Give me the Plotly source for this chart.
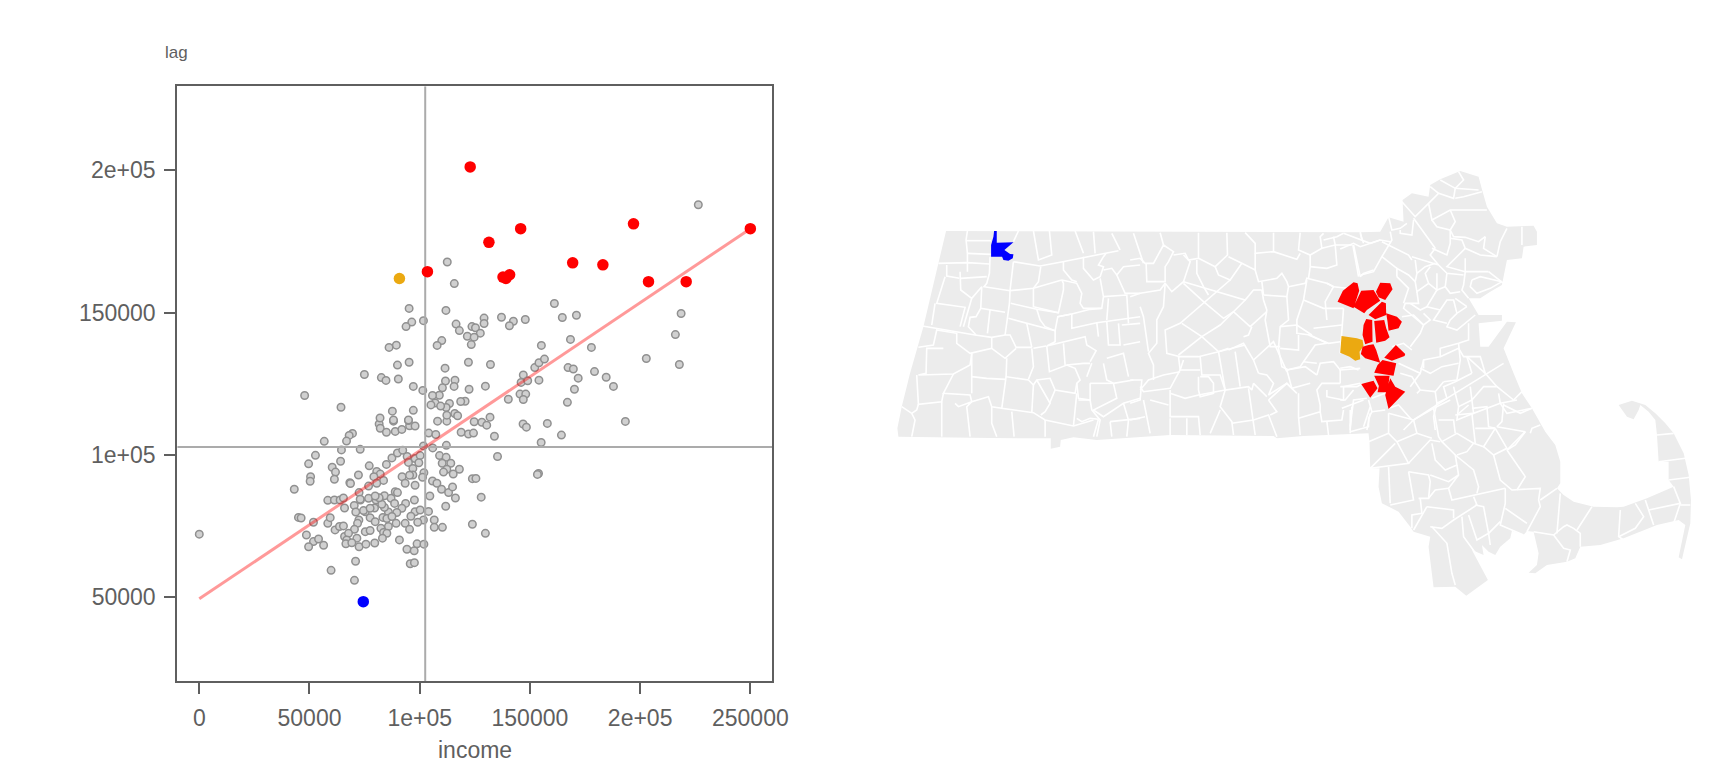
import plotly.graph_objects as go

# scatter values
income = [81600, 82100, 84900, 88900, 91900, 88100, 95400, 97900, 94900, 108100, 112300, 104100, 107300,
          118800, 122100, 124400, 124700, 128200, 130400, 133900, 135300, 69500, 68000, 66800, 56700, 73000,
          64500, 52700, 49600, 64100, 60300, 61800, 61300, 50500, 50300, 43100, 68300, 68600, 72200, 77100,
          84900, 87400, 89900, 92300, 94300, 94900, 97900, 100200, 99600, 96900, 96900, 92000, 95400, 93400,
          97900, 101900, 101300, 101700, 105900, 112100, 109000, 112000, 110200, 114100, 112300, 110800,
          118000, 115200, 105800, 107800, 109900, 113100, 114900, 116200, 123900, 125500, 127900, 104600,
          97600, 111800, 80500, 82100, 79200, 83600, 80500, 76800, 72500, 58300, 61300, 63900, 65400, 65900,
          70300, 73100, 76800, 80200, 79500, 75300, 84000, 87000, 88900, 89900, 88600, 93600, 91900, 89600,
          85800, 84000, 82800, 73000, 71000, 74500, 77500, 81600, 79800, 72400, 71800, 77500, 79800, 83300,
          85100, 87400, 89300, 85800, 82400, 83600, 85100, 83100, 70400, 65900, 67700, 75300, 77500, 61600,
          63600, 65400, 66900, 71500, 66500, 69200, 72500, 75600, 79600, 58300, 59400, 51800, 45000, 46200,
          48600, 51800, 54100, 49600, 56400, 90800, 97900, 100200, 104000, 96000, 101700, 99100, 93400, 95400,
          106600, 106600, 110300, 123900, 129800, 94200, 97500, 98800, 101900, 95700, 97600, 70900, 59800,
          70400,
          95200, 111900, 115700, 101700, 96400, 93800, 89400, 86100, 116500, 118000, 123700, 125300, 129200,
          129200, 127500, 121600, 124700, 123400, 137100, 142500, 140700, 147900, 161100, 155200, 110000,
          107900, 95200, 89900, 111500, 122100, 132100, 74900, 82600, 84700, 90300, 97100, 101400, 111700,
          116000, 115600, 110300, 108900, 105800, 122400, 129800, 147000, 146000, 149000, 154100, 152200,
          154100, 156600, 145500, 148100, 147000, 140200, 120600, 118600, 113500, 112000, 107000, 105100,
          109500, 64300, 87600, 97100, 115900, 117200, 112300, 131900, 82000, 88100, 94900,
          146900, 148400, 157900, 164300, 155100, 153900, 153400, 164700, 171100, 168400, 177900, 167300,
          169700, 171900, 179300, 184600, 187900, 170200, 167000, 202800, 216000, 218600, 217800, 193300,
          0, 47800, 226400, 112500]
lag = [110900, 109400, 108000, 108300, 109000, 111900, 110300, 110200, 112100, 111900, 111900, 107700, 107200,
       108000, 107400, 107700, 111700, 111500, 110500, 106600, 99500, 107600, 106900, 104900, 104800, 102000,
       101800, 99900, 96900, 97800, 95700, 94000, 91500, 92400, 90800, 88000, 90300, 90000, 93000, 96200,
       96700, 99000, 100700, 101700, 99500, 97400, 98800, 99800, 97300, 95300, 93000, 92400, 92900, 90100,
       89400, 93800, 92200, 103200, 102500, 103400, 99800, 99200, 97100, 97100, 95000, 94000,
       95000, 93300, 90900, 90100, 88000, 86800, 88800, 84900, 91700, 91800, 85200, 85600,
       84200, 82000, 94200, 93300, 92400, 91100, 90100, 89100, 86800, 84100, 84200, 84200, 84900, 81400,
       82300, 84200, 84800, 84200, 81400, 80100, 85700, 84800, 87100, 86800, 83000, 83000, 81300, 79800,
       80000, 81600, 82700, 84500, 80000, 80500, 81300, 85000, 85600, 77200, 76000, 78000, 76600, 78100,
       77700, 78400, 76000, 74900, 74300, 72800, 72500, 70800, 73900, 71400, 72500, 73100, 73500, 73700,
       74900, 75100, 70200, 70800, 68800, 69200, 67800, 68700, 69100, 76000, 78000, 76400, 78100, 77900,
       71900, 69600, 70500, 67800, 68300, 70200, 80100, 80700, 80200, 78500, 77200, 76400, 76000, 73900,
       77200, 74600, 74600, 75700, 72500, 66900, 66400, 68800, 68700, 61800, 62200, 62700, 59500,
       56000,
       151500, 150800, 160200, 147200, 146700, 145100, 138600, 137800, 146000, 143700, 145100, 144700, 148100,
       146200, 142800, 141700, 141400, 138800, 148400, 147000, 145400, 147600, 153200, 138500, 140200,
       138500, 132600, 131600, 130500, 132600, 131800, 128300, 127200, 126200, 126700, 124100, 122700, 126000,
       126300, 124100, 123600, 121000, 120900, 123100, 124200, 128100, 125500, 126100, 126300, 130700,
       132400, 133700, 121400, 121400, 119500, 119600, 118900, 118800, 118100, 116700, 118300, 117600,
       117200, 116800, 115400, 115700, 114600, 113800, 114000, 113300, 113000, 112300, 112300,
       110900, 109800, 111100, 107000, 104400, 93500, 93200, 148300, 149100, 140600, 137800, 130700,
       130200, 127000, 129300, 127300, 124100, 123100, 118500, 133900, 142300, 149700, 131800, 111800,
       72200, 120900, 187900, 167800]

high_income = [122900, 145800, 131400, 197000, 250000, 103500, 169400, 183100, 137800, 139100, 140800, 203800, 220900]
high_lag = [201200, 179500, 174700, 181200, 179500, 164400, 167500, 166800, 162500, 162000, 163300, 160900, 160900]
outlier_hl_income = [90800]
outlier_hl_lag = [162000]
outlier_lh_income = [74400]
outlier_lh_lag = [48500]

fit_income = [0, 250000]
fit_lag = [49500, 179500]
mean_income = 102500
mean_lag = 102800

x_ticks = [0, 50000, 100000, 150000, 200000, 250000]
x_labels = ["0", "50000", "1e+05", "150000", "2e+05", "250000"]
y_ticks = [50000, 100000, 150000, 200000]
y_labels = ["50000", "1e+05", "150000", "2e+05"]
x_range = [-10000, 260000]
y_range = [20500, 229500]

# map, easting / northing in arbitrary map units
state_x = [168, 1350, 1410, 1470, 1495, 1540, 1537, 1565, 1615, 1620, 1650, 1710, 1765, 1775, 1790, 1820, 1850, 1930,
           1940, 1940, 1900, 1895, 1850, 1842, 1835, 1800, 1770, 1735, 1765, 1835, 1835, 1765, 1770, 1795, 1850, 1877,
           1840, 1870, 1895, 1925, 1950, 1965, 1995, 2010, 2010, 2000, 2020, 2050, 2110, 2180, 2200, 2270, 2350, 2335,
           2335, 2305, 2300, 2295, 2275, 2250, 2245, 2230, 2210, 2185, 2225, 2265, 2295, 2325, 2350, 2380, 2395, 2402,
           2400, 2385, 2375, 2365, 2380, 2385, 2365, 2300, 2200, 2130, 2070, 2055, 2030, 1970, 1935, 1915, 1940, 1945,
           1930, 1910, 1900, 1865, 1860, 1830, 1815, 1795, 1775, 1780, 1745, 1793, 1728, 1695, 1630, 1615, 1620, 1570,
           1560, 1525, 1475, 1465, 1468, 1440, 1438, 1435, 1240, 1160, 1150, 840, 620, 550, 512, 510, 482, 482, 300, 60,
           25, 22, 35, 60, 100, 145]
state_y = [1107, 1103, 1103, 1105, 1148, 1135, 1200, 1220, 1210, 1245, 1262, 1287, 1270, 1232, 1180, 1130, 1120, 1123,
           1105, 1065, 1060, 1025, 1020, 980, 945, 925, 905, 905, 855, 855, 838, 830, 760, 760, 835, 833,
           755, 680, 620, 575, 530, 505, 465, 415, 350, 335, 315, 295, 280, 278, 280, 305, 340, 360,
           415, 415, 495, 540, 565, 585, 570, 542, 550, 585, 598, 585, 560, 530, 500, 440, 375, 300,
           230, 170, 122, 128, 200, 225, 240, 225, 185, 165, 160, 125, 115, 105, 80, 82, 105, 140,
           205, 207, 195, 208, 185, 160, 135, 145, 165, 135, 150, 60, 13, 40, 38, 160, 190, 205,
           220, 265, 290, 340, 395, 395, 470, 500, 492, 485, 492, 495, 480, 488, 480, 460, 454, 485, 486, 490,
           490, 515, 580, 680, 820, 1010]

# town borders per map sheet, sheet x is easting - origin, sheet y is origin - northing
west_origin = (0, 1140)
west_borders = [
    [(232, 33), (228, 60), (232, 100), (232, 155)], [(228, 62), (303, 62)], [(232, 100), (303, 103)],
    [(145, 130), (232, 128), (298, 132)], [(170, 135), (170, 168), (208, 175)],
    [(300, 110), (298, 160), (290, 190), (282, 200), (360, 212), (430, 205), (515, 180)],
    [(370, 125), (360, 210), (358, 250), (345, 345)],
    [(370, 125), (450, 138), (518, 125), (580, 112), (640, 100), (685, 92)],
    [(385, 33), (370, 65)], [(430, 33), (445, 120), (485, 105), (478, 33)], [(555, 33), (580, 100)], [(610, 35), (615, 100)],
    [(665, 40), (690, 90)],
    [(452, 140), (445, 185), (430, 205), (430, 260), (505, 278), (520, 210), (520, 190), (515, 180), (560, 190), (575, 220),
     (570, 250), (580, 265), (635, 265)],
    [(165, 170), (140, 250), (225, 262), (210, 320)], [(135, 250), (125, 315)],
    [(97, 318), (210, 338), (255, 345), (305, 352), (345, 345), (360, 345), (378, 382), (425, 382)],
    [(210, 155), (212, 210), (245, 235), (275, 200), (272, 265), (345, 277)], [(212, 175), (290, 170)],
    [(245, 235), (230, 290), (220, 320)], [(272, 265), (258, 290), (240, 292), (235, 320), (258, 345)],
    [(362, 250), (440, 268), (505, 278)], [(355, 295), (410, 310), (495, 332)], [(300, 268), (292, 340)], [(410, 310), (425, 382)],
    [(440, 268), (450, 300), (465, 320), (495, 332), (503, 290), (545, 282)],
    [(503, 290), (545, 282), (600, 268), (635, 265), (640, 230), (630, 175)],
    [(545, 282), (545, 325), (620, 308), (710, 295), (750, 290)],
    [(495, 332), (495, 365), (470, 378), (585, 350), (590, 375), (618, 392), (600, 425)],
    [(305, 352), (305, 385), (240, 400), (200, 370), (200, 340), (140, 330), (130, 375), (85, 382)],
    [(160, 385), (110, 385), (108, 460), (85, 465), (190, 462), (240, 435), (245, 400)],
    [(305, 385), (345, 415), (378, 385)],
    [(350, 415), (348, 470), (415, 480), (430, 495), (440, 480), (480, 475), (495, 510), (555, 520), (560, 490)],
    [(425, 385), (430, 440), (415, 478)], [(470, 378), (478, 455), (530, 435), (555, 445), (570, 480), (560, 490), (565, 535), (600, 540)],
    [(430, 385), (468, 378)], [(520, 370), (525, 435)], [(600, 430), (580, 430), (530, 435)],
    [(348, 470), (335, 565), (430, 578), (465, 600), (550, 618), (610, 600)],
    [(245, 400), (245, 520)], [(245, 470), (290, 475), (348, 478)],
    [(190, 462), (160, 520), (240, 525), (245, 545), (295, 530), (305, 560), (335, 565)],
    [(160, 520), (155, 545), (85, 553), (80, 465)], [(155, 545), (155, 650)],
    [(195, 550), (205, 560), (245, 545), (230, 560), (240, 650)],
    [(85, 553), (80, 570), (65, 580), (35, 560)], [(65, 580), (75, 600), (65, 650)],
    [(305, 560), (305, 610), (320, 650)], [(365, 575), (372, 650)], [(465, 600), (465, 650)],
    [(440, 480), (480, 550), (465, 575), (452, 585)], [(430, 495), (425, 578)], [(495, 510), (478, 550)],
    [(550, 618), (560, 520)], [(565, 540), (600, 540), (605, 570), (630, 600), (620, 650)], [(560, 595), (575, 605), (600, 595), (625, 598)],
    [(640, 230), (710, 225), (715, 310)], [(655, 235), (650, 300)], [(695, 315), (750, 310)],
    [(650, 305), (655, 375), (690, 375), (685, 310)], [(700, 375), (750, 365)],
    [(605, 430), (590, 470)], [(650, 415), (700, 400), (715, 470)], [(640, 430), (650, 480), (670, 490), (730, 480)],
    [(670, 490), (680, 535), (610, 570), (640, 590), (700, 550), (750, 535)], [(600, 490), (640, 490), (670, 490)], [(600, 490), (600, 540)],
    [(625, 598), (610, 650)], [(660, 605), (665, 650)], [(700, 550), (715, 600), (710, 650)], [(660, 605), (750, 595)],
    [(520, 125), (520, 150), (545, 180), (560, 185)],
    [(580, 110), (580, 145), (610, 180), (630, 170), (640, 140), (625, 135), (640, 110), (648, 100)],
    [(640, 150), (665, 145), (680, 165), (700, 140), (750, 135)], [(680, 165), (705, 220), (750, 220)],
    [(620, 308), (625, 350)],
]

central_origin = (720, 1140)
central_borders = [
    [(0, 120), (30, 115), (45, 130), (70, 130), (100, 75), (130, 95), (115, 125), (105, 140), (105, 185), (50, 185), (48, 130)],
    [(10, 40), (40, 130)], [(90, 38), (100, 75)],
    [(205, 38), (205, 115), (175, 120), (165, 100), (130, 105)], [(290, 38), (292, 105), (255, 140), (205, 115)],
    [(345, 38), (375, 70), (375, 100), (430, 95), (500, 118), (510, 100)], [(430, 38), (430, 95)],
    [(510, 38), (505, 90), (540, 105), (575, 85), (615, 75), (610, 50)],
    [(375, 100), (375, 150), (335, 130), (295, 110)], [(255, 140), (265, 165), (300, 180), (335, 130)],
    [(160, 105), (180, 125), (165, 170), (160, 185), (125, 215), (105, 190)],
    [(200, 120), (200, 160), (220, 200), (235, 225)], [(160, 185), (345, 240), (370, 210), (395, 210)],
    [(300, 180), (225, 245), (150, 310), (105, 330), (110, 400), (150, 410)],
    [(345, 240), (270, 315), (215, 350), (145, 405)],
    [(160, 190), (220, 245), (280, 295), (310, 275), (360, 320), (410, 275)],
    [(155, 310), (215, 350), (265, 395), (345, 375)],
    [(105, 190), (100, 260), (80, 300), (80, 370), (55, 400), (70, 435), (70, 480)], [(30, 260), (40, 290), (55, 395)],
    [(0, 230), (30, 220), (90, 210), (105, 190)],
    [(395, 210), (400, 240), (410, 270), (405, 300), (420, 380), (450, 380)],
    [(375, 150), (385, 185), (440, 175), (455, 160), (470, 185), (475, 200), (470, 230), (400, 225)], [(395, 185), (400, 225)],
    [(470, 230), (475, 300), (450, 320), (445, 385), (455, 440), (475, 450)],
    [(475, 200), (525, 190), (530, 175), (590, 190), (610, 200), (585, 245), (590, 300)],
    [(530, 180), (520, 240), (500, 300), (500, 340), (540, 345), (590, 370)], [(520, 240), (580, 265), (640, 265)],
    [(505, 345), (505, 390), (450, 385)], [(450, 320), (500, 315), (545, 345)], [(550, 325), (635, 315)],
    [(590, 370), (555, 375), (520, 425), (510, 440), (470, 450)],
    [(340, 350), (355, 345), (365, 320)], [(295, 390), (340, 370), (370, 420), (385, 460)],
    [(295, 385), (265, 395), (205, 410), (145, 410), (150, 450), (210, 450)],
    [(210, 410), (215, 465), (270, 465), (285, 510), (355, 500), (365, 510), (370, 490), (410, 530)],
    [(265, 395), (285, 510)], [(315, 395), (330, 500)], [(370, 420), (430, 365), (470, 455)],
    [(385, 460), (410, 465), (430, 490), (415, 525), (470, 490), (485, 505), (540, 490)],
    [(470, 450), (485, 505)], [(470, 450), (525, 440), (560, 465)],
    [(160, 420), (150, 450), (120, 505), (40, 515), (30, 500)], [(0, 550), (30, 540), (35, 480), (0, 480)],
    [(30, 510), (55, 480), (100, 465), (150, 455)],
    [(205, 470), (205, 510), (210, 530), (250, 520), (250, 490), (235, 470), (210, 470)],
    [(120, 510), (120, 590), (205, 590), (210, 645)], [(120, 520), (165, 535), (205, 525), (285, 510)],
    [(60, 540), (115, 555)], [(40, 540), (60, 640)], [(0, 600), (45, 590)], [(120, 595), (120, 645)], [(170, 595), (170, 645)],
    [(270, 570), (240, 640)], [(305, 610), (370, 600), (415, 585), (440, 650)],
    [(285, 510), (270, 560), (305, 605), (310, 645)], [(355, 505), (370, 600), (375, 645)],
    [(415, 540), (440, 575), (420, 585)], [(505, 520), (505, 590), (510, 645)], [(415, 540), (470, 490), (500, 520)],
    [(505, 595), (570, 575), (575, 605), (635, 600), (640, 570)], [(570, 575), (570, 555), (560, 510), (575, 490), (630, 490)],
    [(590, 510), (590, 530), (640, 540), (640, 500), (690, 490)], [(560, 465), (570, 430), (610, 425), (630, 450), (690, 445)],
    [(520, 425), (560, 430)], [(630, 490), (630, 450)], [(635, 565), (700, 540)], [(660, 570), (660, 640)], [(720, 560), (700, 620)],
    [(590, 605), (595, 645)], [(640, 265), (635, 320), (630, 400)], [(535, 345), (595, 370), (630, 365)],
    [(590, 190), (610, 200), (650, 205)], [(615, 75), (620, 135), (590, 145), (540, 140)],
    [(670, 75), (690, 170), (700, 160), (730, 150)], [(540, 105), (540, 140), (535, 175)],
    [(575, 85), (570, 50), (580, 40)], [(580, 60), (620, 50), (640, 40)], [(640, 40), (690, 60), (720, 70), (750, 60)],
    [(615, 75), (665, 75)], [(690, 40), (700, 70)],
]

north_origin = (1350, 1320)
north_borders = [
    [(0, 267), (40, 250), (60, 260), (120, 240), (150, 245)], [(60, 215), (65, 240)], [(38, 255), (55, 350)],
    [(150, 215), (155, 240), (125, 290), (100, 335), (62, 345)], [(125, 245), (205, 285), (215, 300)], [(125, 290), (170, 325)],
    [(180, 210), (180, 220), (215, 225), (220, 180)], [(145, 170), (155, 210), (180, 205), (200, 190)], [(220, 175), (285, 265)],
    [(185, 125), (225, 170), (265, 130), (295, 100), (270, 80)], [(265, 130), (275, 180), (330, 150), (390, 150), (440, 150)],
    [(295, 100), (340, 115), (345, 85), (370, 60), (355, 35)], [(300, 60), (345, 85), (415, 90)], [(345, 115), (370, 110), (425, 95)],
    [(275, 180), (290, 200), (330, 210), (345, 185), (330, 150)], [(330, 210), (340, 230), (375, 232), (415, 245), (435, 230)],
    [(330, 210), (330, 250), (320, 285), (275, 265)], [(285, 265), (270, 285), (295, 315), (215, 290)],
    [(330, 235), (365, 240), (375, 265), (420, 285), (470, 290)], [(375, 265), (350, 290), (320, 320), (375, 335), (445, 335)],
    [(470, 290), (480, 245), (500, 205)], [(435, 230), (430, 265), (470, 290)], [(545, 200), (545, 255)],
    [(375, 295), (375, 335), (370, 375), (365, 390), (385, 415)], [(445, 335), (490, 370)],
    [(395, 360), (390, 380), (410, 400), (450, 385), (485, 365), (420, 350), (395, 360)],
    [(295, 315), (320, 340), (370, 345)], [(320, 340), (315, 380), (330, 400), (360, 395)],
    [(225, 300), (230, 340), (255, 320), (285, 310)], [(230, 340), (225, 365), (205, 345), (170, 325), (170, 350)],
    [(170, 350), (205, 385), (190, 430)], [(225, 365), (230, 395), (265, 370), (255, 340), (270, 320)], [(265, 370), (290, 390), (315, 380)],
    [(290, 340), (290, 390), (260, 440), (300, 450)], [(230, 395), (235, 430), (195, 430), (190, 445), (250, 495), (270, 480), (250, 460)],
    [(260, 440), (240, 450), (210, 430)], [(300, 450), (320, 420), (340, 420), (350, 460), (380, 440)],
    [(350, 460), (330, 480), (320, 500), (350, 510), (405, 465)], [(380, 440), (345, 415)], [(300, 450), (280, 480), (320, 490)],
    [(185, 470), (220, 465), (250, 495), (240, 520), (210, 560)], [(155, 560), (190, 550), (215, 570)],
    [(385, 490), (385, 540), (355, 550), (300, 565), (300, 590), (250, 600), (240, 640), (200, 620), (175, 610)],
    [(300, 590), (355, 565), (370, 590), (420, 590), (435, 640), (380, 590)], [(355, 550), (360, 600), (350, 660), (310, 665)],
    [(240, 625), (270, 640), (305, 620), (355, 610)], [(250, 600), (250, 625)], [(180, 640), (215, 650), (240, 690), (230, 700)],
    [(240, 640), (210, 680)], [(240, 690), (285, 695), (310, 665)], [(285, 695), (290, 730), (320, 715), (440, 640), (490, 610)],
    [(320, 715), (220, 780), (190, 810)], [(320, 715), (310, 680), (345, 665), (395, 640)], [(395, 640), (380, 590)],
    [(390, 680), (395, 720), (430, 680), (470, 680), (520, 720)], [(435, 640), (470, 680)], [(340, 680), (355, 740), (395, 720)],
    [(290, 730), (280, 770), (285, 810)], [(395, 720), (400, 760), (480, 730), (475, 700)], [(355, 740), (350, 780), (400, 760)],
    [(480, 730), (530, 720)], [(480, 730), (500, 760), (575, 745)], [(520, 720), (545, 695)],
    [(0, 625), (30, 620), (55, 630)], [(0, 680), (50, 680), (70, 670)], [(80, 715), (40, 720), (30, 800)], [(90, 760), (80, 810)],
    [(0, 720), (15, 720), (40, 690)], [(145, 745), (175, 735), (215, 780)], [(95, 715), (135, 700)], [(135, 700), (130, 650)],
]

south_origin = (1350, 600)
south_borders = [
    [(145, 40), (145, 100), (170, 125), (205, 190), (90, 205)], [(145, 40), (220, 60), (280, 25), (330, 0)],
    [(85, 0), (95, 35), (85, 55), (85, 80), (30, 95)], [(35, 20), (30, 90)], [(95, 35), (135, 30)],
    [(170, 125), (230, 100), (275, 115)], [(85, 125), (145, 100)], [(90, 205), (165, 130)], [(205, 190), (270, 120), (300, 125)],
    [(220, 60), (230, 100)], [(280, 25), (295, 110), (305, 125), (345, 165), (350, 195), (315, 210), (285, 180), (275, 130)],
    [(305, 125), (350, 100), (400, 130), (380, 155), (350, 165)], [(345, 165), (400, 210), (415, 260), (410, 280)],
    [(350, 195), (355, 225), (325, 265), (335, 300), (495, 265)], [(295, 60), (340, 60), (345, 100)],
    [(345, 45), (395, 40), (405, 130)], [(350, 45), (385, 15)], [(395, 25), (440, 20), (445, 80), (465, 85)],
    [(405, 85), (465, 85), (430, 140), (400, 130)], [(465, 85), (500, 145), (460, 165), (430, 140)],
    [(490, 10), (485, 65), (470, 80), (555, 95), (500, 150)], [(555, 95), (525, 135), (500, 150)], [(575, 25), (540, 40), (490, 15)],
    [(570, 100), (575, 85), (600, 75)], [(500, 150), (555, 230), (530, 270)],
    [(460, 165), (480, 240), (515, 270), (600, 265), (595, 300), (600, 320), (560, 395)], [(495, 265), (495, 310), (480, 375), (550, 405)],
    [(495, 325), (560, 370)], [(600, 300), (650, 265)], [(660, 280), (650, 400)], [(755, 320), (710, 390)], [(840, 330), (835, 410), (850, 420)],
    [(885, 310), (910, 350), (885, 385), (835, 410)], [(915, 300), (940, 375)], [(1000, 260), (1020, 310), (925, 330)], [(1020, 310), (1000, 370)],
    [(1020, 315), (1050, 315)], [(985, 240), (1050, 232)], [(955, 185), (1035, 175)], [(950, 105), (1000, 100)], [(145, 200), (150, 310)],
    [(205, 215), (220, 300), (150, 315)], [(205, 215), (265, 225), (270, 245), (265, 295), (235, 295)], [(270, 225), (325, 245), (355, 225)],
    [(265, 295), (285, 270), (325, 265)], [(240, 295), (245, 340), (215, 345), (215, 385)], [(260, 320), (340, 330), (340, 355)], [(260, 320), (220, 390)],
    [(400, 290), (410, 315), (340, 360), (305, 385), (270, 380)], [(275, 380), (320, 430), (335, 520), (345, 555)], [(365, 350), (370, 410), (410, 465)],
    [(385, 345), (405, 400), (410, 420), (445, 400), (450, 435)], [(405, 315), (430, 320), (445, 400), (480, 365)],
    [(580, 395), (640, 405), (670, 445), (690, 450), (680, 485)], [(640, 405), (670, 380), (680, 375), (700, 385), (720, 400), (720, 440)],
]

# highlighted towns
low_high_town = [(312, 1107), (320, 1107), (320, 1072), (370, 1073), (343, 1050), (360, 1038), (370, 1037), (368, 1025), (355, 1018),
                 (340, 1020), (336, 1030), (303, 1030), (303, 1065), (310, 1090)]
high_low_town = [(1354, 792), (1400, 785), (1417, 780), (1420, 762), (1408, 745), (1410, 722), (1395, 718), (1378, 730), (1350, 742)]
high_high_towns = [
    [(1390, 953), (1402, 950), (1407, 928), (1390, 875), (1342, 895), (1358, 928)],
    [(1413, 928), (1450, 930), (1470, 898), (1430, 870), (1422, 860), (1390, 880)],
    [(1470, 952), (1500, 950), (1507, 932), (1495, 915), (1485, 900), (1465, 908), (1457, 925)],
    [(1475, 895), (1487, 890), (1488, 855), (1455, 842), (1435, 855)],
    [(1488, 860), (1520, 850), (1535, 835), (1525, 815), (1495, 808), (1492, 835)],
    [(1428, 843), (1446, 840), (1447, 775), (1425, 767), (1417, 795), (1420, 825)],
    [(1452, 837), (1482, 840), (1488, 815), (1498, 788), (1485, 778), (1458, 772)],
    [(1435, 765), (1450, 767), (1458, 750), (1470, 712), (1425, 725), (1412, 738), (1417, 760)],
    [(1517, 765), (1545, 738), (1543, 732), (1505, 718), (1482, 727)],
    [(1477, 720), (1518, 710), (1510, 673), (1452, 682), (1462, 705)],
    [(1452, 673), (1498, 673), (1492, 623), (1462, 623), (1466, 642)],
    [(1413, 648), (1450, 658), (1462, 635), (1440, 607)],
    [(1500, 665), (1515, 640), (1545, 625), (1510, 590), (1495, 573), (1485, 615)],
]

GREY_TEXT = "#5F5F5F"
FONT = "Liberation Sans"


def gapped(polys, origin=(0, 0), flip=False):
    # join polylines into one x/y pair with None breaks
    xs, ys = [], []
    for poly in polys:
        for px, py in poly:
            xs.append(origin[0] + px)
            ys.append(origin[1] - py if flip else py)
        xs.append(None)
        ys.append(None)
    return xs, ys


fig = go.Figure()

# moran scatter
fig.add_trace(go.Scatter(x=income, y=lag, mode="markers",
                         marker=dict(size=7.5, color="#D0D0D0", line=dict(color="#909090", width=1.5))))
fig.add_trace(go.Scatter(x=[mean_income, mean_income], y=y_range, mode="lines", line=dict(color="#ABABAB", width=2)))
fig.add_trace(go.Scatter(x=x_range, y=[mean_lag, mean_lag], mode="lines", line=dict(color="#ABABAB", width=2)))
fig.add_trace(go.Scatter(x=fit_income, y=fit_lag, mode="lines", line=dict(color="rgba(255,0,0,0.4)", width=3)))
for hx, hy, col in [(high_income, high_lag, "#FF0000"), (outlier_hl_income, outlier_hl_lag, "#EBA911"),
                    (outlier_lh_income, outlier_lh_lag, "#0000FF")]:
    fig.add_trace(go.Scatter(x=hx, y=hy, mode="markers", marker=dict(size=11.5, color=col)))

# map
fig.add_trace(go.Scatter(x=state_x, y=state_y, mode="lines", fill="toself", fillcolor="#ECECEC",
                         line=dict(width=0), xaxis="x2", yaxis="y2"))
for polys, origin in [(west_borders, west_origin), (central_borders, central_origin),
                      (north_borders, north_origin), (south_borders, south_origin)]:
    bx, by = gapped(polys, origin, flip=True)
    fig.add_trace(go.Scatter(x=bx, y=by, mode="lines", line=dict(color="white", width=1.6),
                             xaxis="x2", yaxis="y2"))
for towns, col in [([low_high_town], "#0000FF"), ([high_low_town], "#EBA911"), (high_high_towns, "#FF0000")]:
    tx, ty = gapped(towns)
    fig.add_trace(go.Scatter(x=tx, y=ty, mode="lines", fill="toself", fillcolor=col, line=dict(width=0),
                             xaxis="x2", yaxis="y2"))

axis_style = dict(showgrid=False, zeroline=False, showline=True, mirror=True, linecolor=GREY_TEXT, linewidth=2,
                  ticks="outside", ticklen=11, tickwidth=1.5, tickcolor=GREY_TEXT, ticklabelstandoff=4,
                  tickfont=dict(family=FONT, size=23, color=GREY_TEXT))
fig.update_layout(
    width=1728, height=768, showlegend=False, paper_bgcolor="white", plot_bgcolor="white",
    margin=dict(l=0, r=0, t=0, b=0),
    xaxis=dict(domain=[178.9 / 1728, 779.6 / 1728], range=x_range, tickvals=x_ticks, ticktext=x_labels, tickangle=0, **axis_style),
    yaxis=dict(domain=[1 - 681.4 / 768, 1 - 86.3 / 768], range=y_range, tickvals=y_ticks, ticktext=y_labels, **axis_style),
    xaxis2=dict(domain=[860 / 1728, 1], range=[-114, 2465], visible=False, anchor="y2"),
    yaxis2=dict(domain=[0, 1], range=[-504, 1800], visible=False, anchor="x2"),
    annotations=[dict(text="lag", xref="paper", yref="paper", x=165 / 1728, y=1 - 52 / 768, xanchor="left", yanchor="middle",
                      showarrow=False, font=dict(family=FONT, size=17, color=GREY_TEXT)),
                 dict(text="income", xref="paper", yref="paper", x=479.2 / 1728, y=1 - 750 / 768, xanchor="center", yanchor="middle",
                      showarrow=False, font=dict(family=FONT, size=23, color=GREY_TEXT))],
)

fig.write_html("out.html", config={"displayModeBar": False, "responsive": False},
               post_script="document.body.style.margin='0';Plotly.relayout(document.getElementsByClassName('plotly-graph-div')[0],{width:1728,height:768});")
